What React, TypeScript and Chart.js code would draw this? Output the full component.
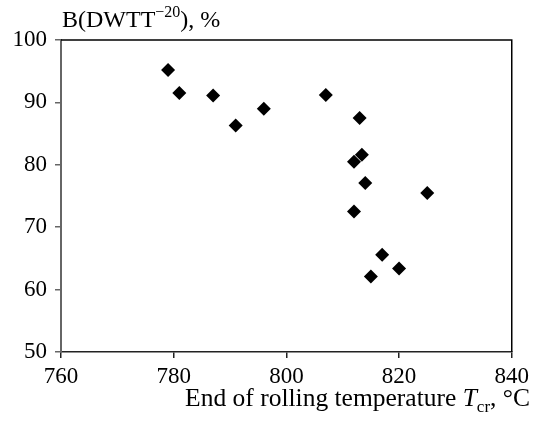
import React, { useEffect, useRef } from "react";
import { Chart, registerables } from "chart.js";

Chart.register(...registerables);

// End of rolling temperature, °C
const temperatures = [779, 781, 787, 791, 796, 807, 813, 812, 813.4, 814, 825, 812, 817, 820, 815];
// B(DWTT-20), %
const bValues = [95.2, 91.5, 91.1, 86.3, 89.0, 91.2, 87.5, 80.5, 81.6, 77.1, 75.5, 72.5, 65.6, 63.4, 62.1];

const xTicks = [760, 780, 800, 820, 840];
const yTicks = [50, 60, 70, 80, 90, 100];

const FONT = '"Liberation Serif", "Times New Roman", serif';

type Seg = { t: string; italic?: boolean; sup?: boolean; sub?: boolean };

function segFont(s: Seg, fs: number) {
  const size = s.sup || s.sub ? Math.round(fs * 0.68) : fs;
  return `${s.italic ? "italic " : ""}${size}px ${FONT}`;
}

function drawRich(
  ctx: CanvasRenderingContext2D,
  segs: Seg[],
  x: number,
  baseline: number,
  align: "left" | "right",
  fs: number
) {
  ctx.save();
  ctx.textBaseline = "alphabetic";
  ctx.textAlign = "left";
  ctx.fillStyle = "#000";
  let total = 0;
  const widths = segs.map((s) => {
    ctx.font = segFont(s, fs);
    const w = ctx.measureText(s.t).width;
    total += w;
    return w;
  });
  let cx = align === "left" ? x : x - total;
  segs.forEach((s, i) => {
    ctx.font = segFont(s, fs);
    const dy = s.sup ? -fs * 0.42 : s.sub ? fs * 0.22 : 0;
    ctx.fillText(s.t, cx, baseline + dy);
    cx += widths[i];
  });
  ctx.restore();
}

const titleSegs: Seg[] = [{ t: "B(DWTT" }, { t: "−20", sup: true }, { t: "), %" }];
const xTitleSegs: Seg[] = [
  { t: "End of rolling temperature " },
  { t: "T", italic: true },
  { t: "cr", sub: true },
  { t: ", °C" },
];

const framePlugin = {
  id: "framePlugin",
  afterDraw(chart: any) {
    const { ctx, chartArea } = chart;
    ctx.save();
    ctx.strokeStyle = "#000";
    ctx.lineWidth = 1.5;
    ctx.beginPath();
    ctx.moveTo(chartArea.left, chartArea.top);
    ctx.lineTo(chartArea.right, chartArea.top);
    ctx.lineTo(chartArea.right, chartArea.bottom);
    ctx.stroke();
    ctx.restore();
    drawRich(ctx, titleSegs, chartArea.left + 1, 27, "left", 24);
    drawRich(ctx, xTitleSegs, 530, 406, "right", 25.5);
  },
};

export default function App() {
  const ref = useRef<HTMLCanvasElement>(null);
  useEffect(() => {
    if (!ref.current) return;
    const chart = new Chart(ref.current, {
      type: "scatter",
      data: {
        datasets: [
          {
            data: temperatures.map((t, i) => ({ x: t, y: bValues[i] })),
            pointStyle: "rectRot",
            pointRadius: 7,
            pointHoverRadius: 7,
            backgroundColor: "#000",
            borderColor: "#000",
            borderWidth: 0,
          },
        ],
      },
      options: {
        responsive: false,
        animation: false,
        events: [],
        layout: { padding: { left: 0, top: 40, right: 19, bottom: 0 } },
        plugins: { legend: { display: false }, tooltip: { enabled: false }, title: { display: false } },
        scales: {
          x: {
            type: "linear",
            min: 760,
            max: 840,
            afterBuildTicks: (s: any) => {
              s.ticks = xTicks.map((v) => ({ value: v }));
            },
            afterFit: (s: any) => {
              s.height = 70;
            },
            ticks: { color: "#000", font: { family: FONT, size: 23 }, padding: 5, maxRotation: 0, autoSkip: false },
            grid: { drawOnChartArea: false, drawTicks: true, tickLength: 6, color: "#222", lineWidth: 1.5 },
            border: { display: true, color: "#222", width: 1.5 },
          },
          y: {
            type: "linear",
            min: 50,
            max: 100,
            afterBuildTicks: (s: any) => {
              s.ticks = yTicks.map((v) => ({ value: v }));
            },
            afterFit: (s: any) => {
              s.width = 61;
            },
            ticks: { color: "#000", font: { family: FONT, size: 23 }, padding: 8, autoSkip: false },
            grid: { drawOnChartArea: false, drawTicks: true, tickLength: 6, color: "#666", lineWidth: 1.5 },
            border: { display: true, color: "#666", width: 2 },
          },
        },
      },
      plugins: [framePlugin],
    });
    return () => chart.destroy();
  }, []);
  return (
    <div style={{ position: "fixed", left: 0, top: 0, width: 534, height: 422, background: "#fff" }}>
      <canvas ref={ref} width={534} height={422} style={{ display: "block" }} />
    </div>
  );
}
